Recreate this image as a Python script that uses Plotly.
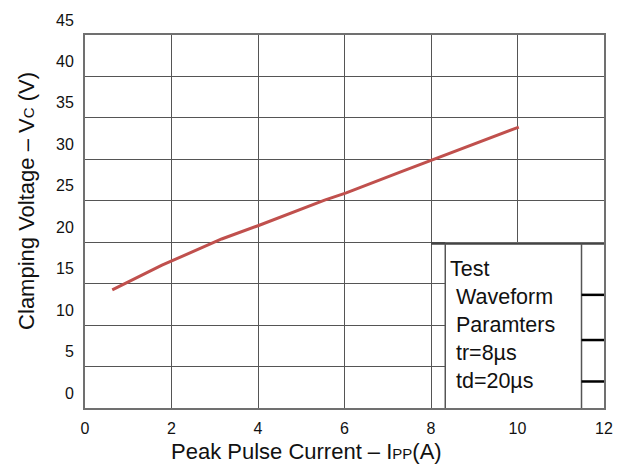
import plotly.graph_objects as go

# ---- data ----
ipp_a = [0.63, 1.78, 3.16, 4.0, 5.54, 6.04, 7.27, 8.04, 10.03]
vc_v = [14.25, 17.23, 20.39, 21.99, 25.08, 25.95, 28.42, 29.92, 33.89]

x_ticks = [0, 2, 4, 6, 8, 10, 12]
y_ticks = [0, 5, 10, 15, 20, 25, 30, 35, 40, 45]

legend_lines = ["Test", "\u00a0Waveform", "\u00a0Paramters", "\u00a0tr=8µs", "\u00a0td=20µs"]

FONT = "Liberation Sans, Arial, sans-serif"
GRID = "#555555"

fig = go.Figure()
fig.add_trace(go.Scatter(
    x=ipp_a, y=vc_v, mode="lines",
    line=dict(color="#c0504d", width=3),
    showlegend=False, hoverinfo="skip",
))

# parameter box (drawn over the grid, under the axis frame)
shapes = [
    dict(type="rect", xref="x", yref="y", x0=8.33, x1=12, y0=0, y1=20,
         fillcolor="white", line=dict(width=0), layer="between"),
    dict(type="line", xref="x", yref="y", x0=8, x1=12, y0=19.85, y1=19.85,
         line=dict(color="#444444", width=2.5), layer="between"),
    dict(type="line", xref="x", yref="y", x0=8.33, x1=8.33, y0=0, y1=19.85,
         line=dict(color=GRID, width=1.5), layer="between"),
    dict(type="line", xref="x", yref="y", x0=11.48, x1=11.48, y0=0, y1=19.85,
         line=dict(color=GRID, width=1.5), layer="between"),
]
for yv in (13.65, 8.2, 3.2):
    shapes.append(dict(type="line", xref="x", yref="y", x0=11.48, x1=12, y0=yv, y1=yv,
                       line=dict(color="#000000", width=2.5), layer="between"))

annotations = [
    dict(xref="paper", yref="paper", x=0.7, y=0.2235, xanchor="left", yanchor="middle",
         text="<br>".join(legend_lines), align="left", showarrow=False,
         font=dict(family=FONT, size=21.5, color="#111111")),
    dict(xref="paper", yref="paper", x=(307 - 85) / 520, y=(408 - 452) / 378,
         xanchor="center", yanchor="middle", showarrow=False,
         text="Peak Pulse Current \u2013 I<span style='font-size:15px'>PP</span>(A)",
         font=dict(family=FONT, size=22, color="#111111")),
    dict(xref="paper", yref="paper", x=(27 - 85) / 520, y=(408 - 198) / 378,
         xanchor="center", yanchor="middle", showarrow=False, textangle=-90,
         text="Clamping Voltage \u2013 V<span style='font-size:15px'>C</span> (V)",
         font=dict(family=FONT, size=22, color="#111111")),
]

fig.update_layout(
    width=625, height=469,
    margin=dict(l=85, r=20, t=30, b=61),
    paper_bgcolor="white", plot_bgcolor="white",
    font=dict(family=FONT, size=16, color="#111111"),
    shapes=shapes, annotations=annotations,
    showlegend=False,
)
fig.update_xaxes(
    range=[0, 12], tickvals=x_ticks, showgrid=True, gridcolor=GRID, gridwidth=1,
    showline=True, linecolor="#707070", linewidth=2, mirror=True,
    zeroline=False, ticks="", ticklabelstandoff=5,
    tickfont=dict(family=FONT, size=16, color="#111111"),
)
fig.update_yaxes(
    range=[0, 45], tickvals=y_ticks, showgrid=True, gridcolor=GRID, gridwidth=1,
    showline=True, linecolor="#707070", linewidth=2, mirror=True,
    zeroline=False, ticks="", ticklabelstandoff=6, ticklabelshift=-15,
    tickfont=dict(family=FONT, size=16, color="#111111"),
)

fig.write_html(
    "out.html",
    config={"displayModeBar": False},
    post_script="document.body.style.margin='0';document.body.style.overflow='hidden';",
)
